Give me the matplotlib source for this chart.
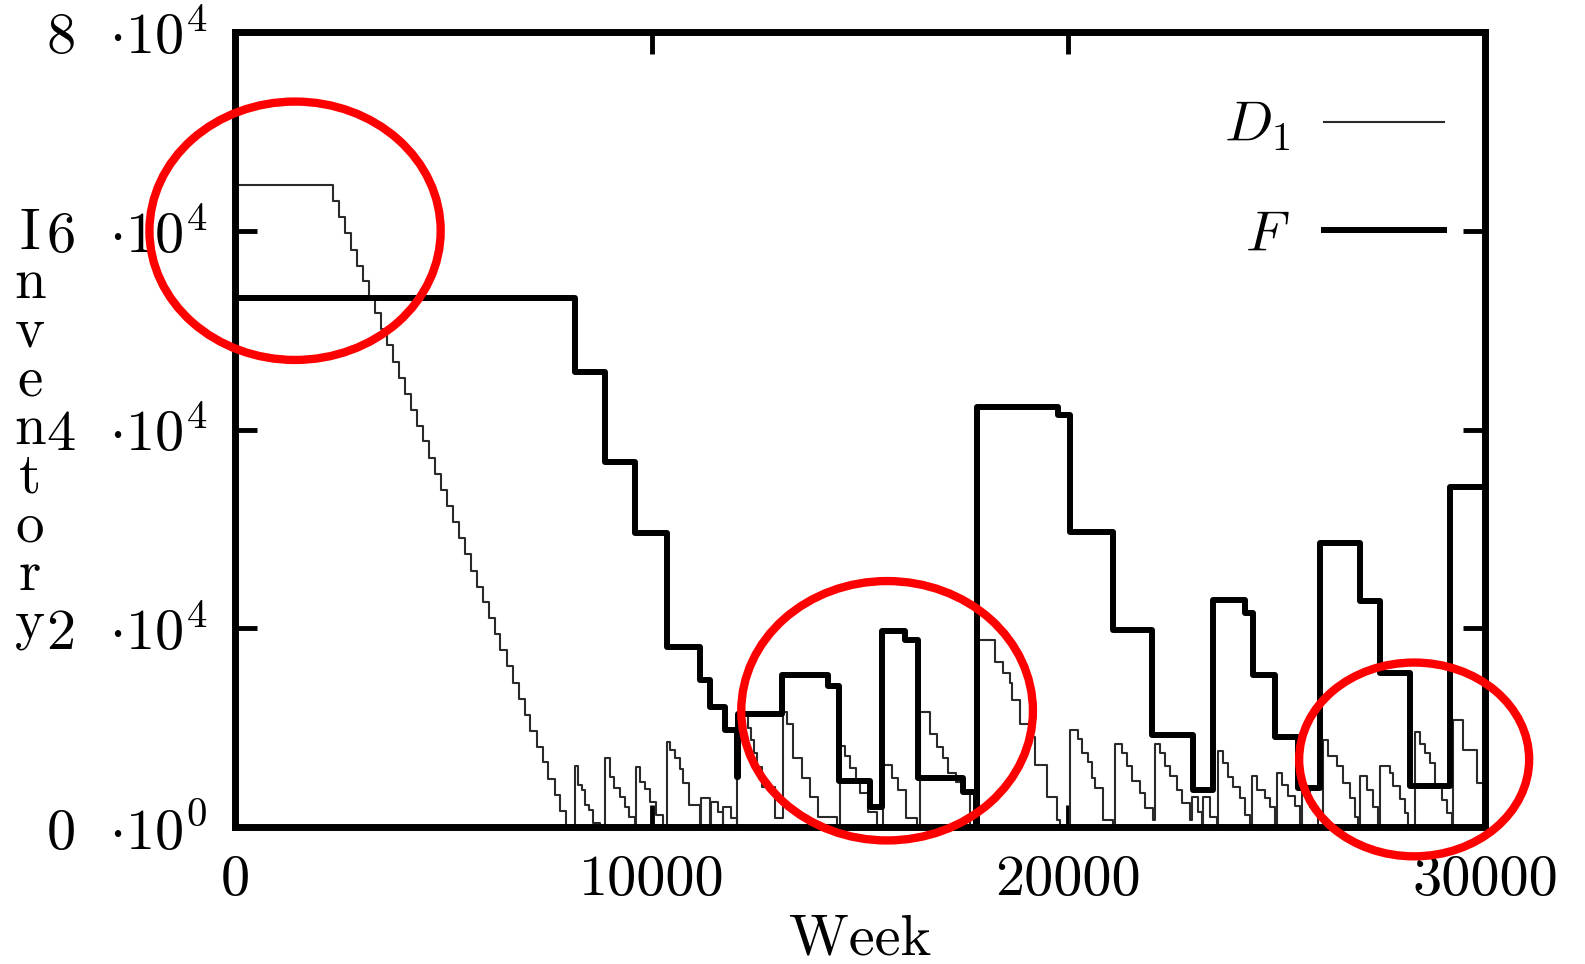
import matplotlib
matplotlib.use("Agg")
import matplotlib.pyplot as plt
from matplotlib.patches import Ellipse
from matplotlib.lines import Line2D

plt.rcParams['mathtext.fontset'] = 'cm'
plt.rcParams['font.family'] = 'cmr10'
plt.rcParams['axes.unicode_minus'] = False

# --- data (step values, held until the next week) ---
# D1: long run-down from the initial stock, then many small saw teeth
d1_weeks = [
    0, 2350, 2490, 2640, 2780, 2920, 3070, 3210, 3360, 3500, 3640,
    3790, 3930, 4070, 4220, 4360, 4510, 4650, 4790, 4940, 5080,
    5220, 5370, 5510, 5660, 5800, 5940, 6090, 6230, 6370, 6520,
    6660, 6810, 6950, 7090, 7240, 7380, 7520, 7670, 7810, 7950,
    8160, 8230, 8330, 8400, 8500, 8600, 8760,
    8880, 8990, 9100, 9230, 9350, 9450, 9600,
    9620, 9720, 9850, 9950, 10100, 10270,
    10360, 10450, 10560, 10680, 10760, 10900, 11160, 11180, 11400, 11420, 11600, 11700, 11720, 11900, 12040,
    12050, 12300, 12380, 12450, 12530, 12640, 12950,
    13140, 13240, 13400, 13600, 13800, 14000, 14440,
    14520, 14640, 14760, 14900, 15000, 15200, 15400,
    15560, 15760, 15900, 16100, 16360,
    16440, 16680, 16840, 17000, 17120, 17300, 17440, 17640,
    17840, 18240, 18440, 18600, 18640, 18840, 19080, 19200, 19480, 19720, 19800,
    20040, 20240, 20320, 20480, 20560, 20640, 20840, 21080,
    21120, 21280, 21400, 21520, 21720, 21840, 22040,
    22080, 22200, 22320, 22440, 22600, 22720, 22920,
    22960, 23100, 23200, 23220, 23400, 23560,
    23600, 23720, 23840, 23960, 24120, 24240, 24360,
    24400, 24520, 24720, 24840, 24960,
    25000, 25120, 25280, 25440, 25560,
    25600, 25800, 26000,
    26120, 26240, 26440, 26600, 26760, 26880, 26960,
    27000, 27160, 27320, 27440,
    27480, 27720, 27800, 27960, 28080, 28160,
    28320, 28440, 28560, 28680, 28800, 28960, 29100, 29200,
    29240, 29480, 29800, 30000,
]
d1_levels = [
    64600, 63000, 61400, 59800, 58100, 56500, 54900, 53300, 51700, 50100, 48500,
    46800, 45200, 43600, 42000, 40400, 38800, 37100, 35500, 33900, 32300,
    30700, 29100, 27500, 25800, 24200, 22600, 21000, 19400, 17800, 16200,
    14500, 12900, 11300, 9700, 8100, 6500, 4800, 3200, 1600, 0,
    6100, 4200, 3700, 2200, 1700, 400, 0,
    6900, 5000, 3900, 3000, 2000, 1000, 0,
    6000, 4500, 3800, 2500, 1200, 0,
    8600, 7800, 6900, 5800, 4400, 2200, 0, 2900, 0, 2500, 1500, 0, 2000, 900, 0,
    11400, 10000, 8800, 7400, 6000, 4000, 900,
    11600, 10400, 6900, 4900, 3000, 1000, 0,
    8200, 7100, 5900, 4600, 3400, 1500, 0,
    6200, 4900, 3700, 900, 0,
    11600, 9400, 8100, 6900, 5400, 4500, 3400, 0,
    18800, 16600, 15500, 14500, 12800, 10400, 9100, 6200, 3000, 700, 0,
    9800, 8900, 7400, 6500, 4900, 3900, 700, 0,
    8400, 7400, 6100, 4600, 3400, 1900, 700,
    8400, 7400, 6100, 5100, 3700, 2400, 700,
    3000, 1500, 0, 3000, 1000, 0,
    7600, 6400, 5000, 4000, 2900, 1200, 0,
    5100, 3700, 2900, 2000, 0,
    5400, 4200, 3100, 2100, 0,
    3700, 2000, 0,
    8800, 7100, 6100, 4400, 2900, 1000, 0,
    5100, 3700, 2000, 0,
    6100, 5400, 4100, 2800, 1400, 0,
    9600, 8400, 7400, 6400, 4100, 2700, 1400, 0,
    10800, 7800, 4400, 4400,
]

# F: stepped inventory with large reorders
f_weeks = [0, 8150, 8880, 9600, 10360, 11160, 11400, 11760, 12040, 12060,
           13120, 14240, 14500, 15240, 15520, 16080, 16400, 17480, 17780, 17800,
           19760, 20040, 21080, 22000, 23000, 23480, 24240, 24440, 24960, 25520,
           26040, 27000, 27480, 28200, 29160, 30000]
f_levels = [53200, 45800, 36700, 29600, 18100, 14800, 12100, 9800, 5000, 11400,
            15300, 14200, 4600, 2000, 19700, 18800, 4900, 3500, 0, 42300,
            41500, 29700, 19800, 9300, 3700, 22800, 21500, 15300, 9100, 3900,
            28600, 22700, 15500, 4100, 34200, 34200]

x_ticks = [0, 10000, 20000, 30000]
x_tick_labels = ['0', '10000', '20000', '30000']
y_ticks = [0, 20000, 40000, 60000, 80000]
y_tick_labels = [r'$0\ \ {\cdot}10^{0}$', r'$2\ \ {\cdot}10^{4}$', r'$4\ \ {\cdot}10^{4}$',
                 r'$6\ \ {\cdot}10^{4}$', r'$8\ \ {\cdot}10^{4}$']

# red highlight rings: (centre week, centre level, width, height)
rings = [(1440, 60000, 6990, 26000),
         (15650, 11700, 7000, 26100),
         (28300, 6800, 5520, 19500)]

fig = plt.figure(figsize=(15.85, 9.64), dpi=100)
ax = fig.add_axes([0.1483, 0.1421, 0.7886, 0.8247])

ax.step(d1_weeks, d1_levels, where='post', color='#2a2a2a', lw=1.5, zorder=2)
ax.step(f_weeks, f_levels, where='post', color='black', lw=4.3, zorder=3)

ax.set_xlim(0, 30000)
ax.set_ylim(0, 80000)
ax.set_xticks(x_ticks)
ax.set_xticklabels(x_tick_labels)
ax.set_yticks(y_ticks)
ax.set_yticklabels(y_tick_labels)
ax.tick_params(direction='in', length=16, width=3.5, top=True, right=True,
               labelsize=42, pad=20)
for s in ax.spines.values():
    s.set_linewidth(5)

ax.set_xlabel('Week', fontsize=42, va='center')
ax.xaxis.set_label_coords(0.5, -0.142)
ax.set_ylabel('\n'.join('Inventory'), fontsize=41, rotation=0,
              va='center', ha='center', linespacing=0.94)
ax.yaxis.set_label_coords(-0.164, 0.5)

handles = [Line2D([], [], color='#2a2a2a', lw=1.5),
           Line2D([], [], color='black', lw=4.3)]
ax.legend(handles, [r'$D_1$', r'$F$'], loc='upper right', bbox_to_anchor=(0.967, 0.915),
          frameon=False, markerfirst=False, fontsize=41, handlelength=2.1,
          labelspacing=1.0, borderpad=0, borderaxespad=0, handletextpad=0.6)

for cx, cy, w, h in rings:
    ax.add_patch(Ellipse((cx, cy), w, h, fill=False, edgecolor='#ff0000',
                         lw=6, clip_on=False, zorder=5))

fig.savefig('out.png', dpi=100)
